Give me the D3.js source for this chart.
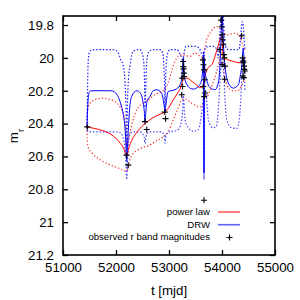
<!DOCTYPE html>
<html><head><meta charset="utf-8">
<script src="https://cdn.jsdelivr.net/npm/d3@7"></script>
<style>body{margin:0;background:#fff}svg{display:block}text{font-family:"Liberation Sans",Arial,sans-serif}</style>
</head><body><svg id="c" width="300" height="300"></svg>
<script>
// ---- data (t [mjd], m_r) ----
const xTicks=[51000,52000,53000,54000,55000];
const yTicks=[19.8,20,20.2,20.4,20.6,20.8,21,21.2];
const legendLabels=["power law","DRW","observed r band magnitudes"];

const obsT=[51458,52200,52230,52547,52580,52920,52935,53240,53255,53265,53270,53275,53280,53285,53250,53640,53650,53660,53675,53645,53680,53665,53660,53960,53985,53995,54005,54015,54025,54035,54045,54000,54055,54371,54390,54400,54405,54415,54420,54430,54395,54410,54050];
const obsM=[20.42,20.592,20.653,20.388,20.436,20.33,20.37,20.224,20.174,20.022,20.053,20.067,20.093,20.113,20.123,20.012,20.042,20.073,20.133,20.174,20.214,20.236,20.867,19.95,19.77,19.81,19.86,19.89,19.92,19.98,20.0,20.04,20.05,19.865,20.0,20.02,20.03,20.05,20.07,20.08,20.11,20.12,20.13];

const plMean=[[51453,20.42],[51600,20.43],[51750,20.443],[51900,20.465],[52000,20.49],[52080,20.52],[52150,20.555],[52202,20.6],[52240,20.55],[52300,20.5],[52400,20.45],[52480,20.42],[52547,20.4],[52642,20.376],[52750,20.355],[52850,20.34],[52925,20.33],[53000,20.3],[53081,20.255],[53150,20.22],[53208,20.19],[53270,20.133],[53340,20.123],[53420,20.14],[53500,20.16],[53585,20.18],[53642,20.175],[53679,20.11],[53740,20.06],[53811,20.04],[53925,19.93],[53990,19.87],[54020,19.97],[54045,20.0],[54100,20.01],[54200,20.02],[54340,20.03],[54400,20.01],[54434,20.0]];
const plUpper=[[51453,20.42],[51465,20.32],[51500,20.28],[51600,20.255],[51750,20.245],[51900,20.255],[52000,20.27],[52080,20.3],[52140,20.34],[52180,20.42],[52202,20.56],[52234,20.5],[52296,20.41],[52391,20.315],[52515,20.275],[52610,20.255],[52750,20.22],[52892,20.2],[52987,20.15],[53050,20.08],[53113,20.02],[53236,19.98],[53300,19.985],[53396,19.99],[53491,19.97],[53585,19.99],[53640,20.0],[53708,19.89],[53774,19.85],[53896,19.81],[54000,19.83],[54088,19.86],[54245,19.85],[54340,19.87],[54400,19.93],[54434,19.95]];
const plLower=[[51453,20.42],[51458,20.5],[51475,20.545],[51550,20.58],[51700,20.62],[51850,20.645],[52000,20.665],[52100,20.678],[52202,20.69],[52264,20.618],[52330,20.58],[52420,20.56],[52547,20.54],[52610,20.535],[52736,20.51],[52892,20.48],[52987,20.45],[53081,20.376],[53175,20.305],[53240,20.255],[53300,20.25],[53400,20.27],[53500,20.29],[53585,20.3],[53642,20.28],[53700,20.25],[53811,20.17],[53900,20.08],[53960,20.0],[54000,19.95],[54040,20.1],[54100,20.17],[54200,20.2],[54300,20.2],[54370,20.17],[54434,20.12]];

const drwMean=[[51453,20.42],[51462,20.33],[51475,20.25],[51495,20.21],[51530,20.2],[51900,20.2],[51960,20.205],[52030,20.23],[52090,20.28],[52140,20.35],[52175,20.45],[52195,20.58],[52202,20.63],[52210,20.58],[52230,20.45],[52260,20.3],[52296,20.235],[52391,20.2],[52460,20.215],[52510,20.27],[52535,20.33],[52547,20.39],[52560,20.34],[52590,20.26],[52642,20.235],[52700,20.2],[52768,20.194],[52850,20.21],[52895,20.26],[52915,20.31],[52925,20.335],[52940,20.29],[52987,20.204],[53113,20.194],[53208,20.164],[53240,20.12],[53260,20.04],[53272,20.0],[53285,20.08],[53302,20.133],[53340,20.164],[53396,20.184],[53458,20.19],[53553,20.174],[53617,20.133],[53645,20.03],[53656,19.98],[53660,20.7],[53664,20.0],[53680,20.08],[53711,20.133],[53774,20.18],[53868,20.194],[53930,20.153],[53960,20.05],[53985,19.85],[53998,19.72],[54012,19.8],[54035,19.97],[54057,20.05],[54119,20.153],[54213,20.184],[54308,20.164],[54350,20.1],[54372,20.05],[54390,19.97],[54400,19.94],[54415,20.0],[54434,20.08]];
const drwUpper=[[51453,20.42],[51460,20.25],[51468,20.1],[51480,20.0],[51500,19.965],[51540,19.952],[51600,19.95],[51950,19.95],[52000,19.955],[52043,19.97],[52090,20.01],[52137,20.05],[52170,20.15],[52189,20.315],[52202,20.55],[52215,20.3],[52235,20.13],[52264,20.05],[52300,19.98],[52326,19.96],[52400,19.95],[52453,19.95],[52500,19.98],[52515,20.0],[52535,20.1],[52547,20.3],[52560,20.2],[52575,20.05],[52600,19.98],[52640,19.955],[52700,19.95],[52840,19.95],[52880,19.97],[52900,20.03],[52915,20.15],[52925,20.3],[52935,20.15],[52950,20.03],[52975,19.97],[53020,19.95],[53150,19.95],[53200,19.97],[53230,19.99],[53250,20.01],[53270,20.0],[53290,19.96],[53320,19.93],[53400,19.93],[53500,19.93],[53570,19.94],[53610,19.97],[53640,19.99],[53656,19.96],[53660,20.6],[53664,19.96],[53690,19.94],[53740,19.93],[53850,19.93],[53900,19.95],[53930,20.0],[53950,19.9],[53975,19.78],[53990,19.7],[54012,19.7],[54030,19.8],[54050,19.9],[54080,19.94],[54120,19.95],[54250,19.95],[54320,19.95],[54345,19.9],[54365,19.82],[54380,19.78],[54400,19.8],[54420,19.9],[54434,19.95]];
const drwLower=[[51453,20.42],[51460,20.44],[51480,20.45],[51550,20.45],[52000,20.45],[52080,20.455],[52130,20.48],[52170,20.55],[52190,20.65],[52202,20.74],[52214,20.65],[52235,20.52],[52270,20.46],[52320,20.45],[52453,20.45],[52500,20.46],[52530,20.48],[52547,20.52],[52565,20.48],[52600,20.455],[52650,20.45],[52850,20.45],[52890,20.46],[52915,20.49],[52925,20.52],[52935,20.49],[52960,20.46],[53000,20.45],[53120,20.445],[53175,20.436],[53240,20.376],[53262,20.3],[53272,20.22],[53285,20.3],[53302,20.376],[53364,20.426],[53458,20.447],[53553,20.436],[53617,20.335],[53645,20.25],[53656,20.22],[53660,20.74],[53664,20.22],[53690,20.2],[53711,20.255],[53740,20.37],[53774,20.406],[53830,20.426],[53896,20.416],[53925,20.335],[53943,20.255],[53970,20.1],[53990,20.02],[54010,20.0],[54035,20.1],[54057,20.255],[54088,20.376],[54183,20.426],[54277,20.43],[54326,20.376],[54353,20.255],[54375,20.12],[54395,20.05],[54415,20.1],[54434,20.2]];

// ---- layout ----
const L=63,R=275,T=16,B=255;
const svg=d3.select("#c");
const x=d3.scaleLinear().domain([51000,55000]).range([L,R]);
const y=d3.scaleLinear().domain([19.745,21.2]).range([T,B]);

svg.append("defs").append("clipPath").attr("id","clip").append("rect")
  .attr("x",L).attr("y",T).attr("width",R-L).attr("height",B-T);

const fs=13.3;
const gl=svg.append("g").attr("transform",`translate(${L},0)`)
  .call(d3.axisLeft(y).tickValues(yTicks).tickSize(-5).tickPadding(9).tickFormat(d=>String(d)));
const gb=svg.append("g").attr("transform",`translate(0,${B})`)
  .call(d3.axisBottom(x).tickValues(xTicks).tickSize(-5).tickPadding(8).tickFormat(d=>String(d)));
const gt=svg.append("g").attr("transform",`translate(0,${T})`)
  .call(d3.axisTop(x).tickValues(xTicks).tickSize(-5).tickFormat(""));
const gr=svg.append("g").attr("transform",`translate(${R},0)`)
  .call(d3.axisRight(y).tickValues(yTicks).tickSize(-5).tickFormat(""));
[gl,gb,gt,gr].forEach(g=>{
  g.select(".domain").remove();
  g.selectAll("line").attr("stroke","#000").attr("stroke-width",1.3);
  g.selectAll("text").attr("font-size",fs).attr("fill","#000").attr("font-family","Liberation Sans, Arial, sans-serif");
});

const plot=svg.append("g").attr("clip-path","url(#clip)");
const line=d3.line().x(d=>x(d[0])).y(d=>y(d[1])).curve(d3.curveMonotoneX);

plot.append("path").datum(plUpper).attr("d",line).attr("fill","none").attr("stroke","#ff2020").attr("stroke-width",1.2).attr("stroke-dasharray","1.2,2.2");
plot.append("path").datum(plLower).attr("d",line).attr("fill","none").attr("stroke","#ff2020").attr("stroke-width",1.2).attr("stroke-dasharray","1.2,2.2");
plot.append("path").datum(drwUpper).attr("d",line).attr("fill","none").attr("stroke","#2020ff").attr("stroke-width",1.2).attr("stroke-dasharray","1.5,1.8");
plot.append("path").datum(drwLower).attr("d",line).attr("fill","none").attr("stroke","#4848ff").attr("stroke-width",1.2).attr("stroke-dasharray","1.5,1.8");
plot.append("path").datum(plMean).attr("d",line).attr("fill","none").attr("stroke","#ff0000").attr("stroke-width",1);
plot.append("path").datum(drwMean).attr("d",line).attr("fill","none").attr("stroke","#0000ff").attr("stroke-width",1);

const plus=(g,cx,cy,s)=>{
  g.append("path").attr("d",`M${cx-s},${cy}H${cx+s}M${cx},${cy-s}V${cy+s}`).attr("stroke","#000").attr("stroke-width",1.1).attr("fill","none");
};
const pg=plot.append("g");
obsT.forEach((t,i)=>plus(pg,x(t),y(obsM[i]),3));

// frame
svg.append("rect").attr("x",L).attr("y",T).attr("width",R-L).attr("height",B-T)
  .attr("fill","none").attr("stroke","#000").attr("stroke-width",1.6);

// axis labels
svg.append("text").attr("x",(L+R)/2).attr("y",295).attr("text-anchor","middle").attr("font-size",fs).text("t [mjd]");
const yl=svg.append("text").attr("transform","translate(18,136) rotate(-90)").attr("text-anchor","middle").attr("font-size",fs);
yl.append("tspan").text("m");
yl.append("tspan").attr("baseline-shift","sub").attr("font-size",9.5).text("r");

// legend
const lx=210, ly=[215,227.7,240];
const lg=svg.append("g").attr("font-size",9.6);
legendLabels.forEach((s,i)=>lg.append("text").attr("x",lx).attr("y",ly[i]).attr("text-anchor","end").text(s));
lg.append("line").attr("x1",218).attr("x2",240).attr("y1",212).attr("y2",212).attr("stroke","#ff0000").attr("stroke-width",1);
lg.append("line").attr("x1",218).attr("x2",240).attr("y1",224.7).attr("y2",224.7).attr("stroke","#6060ff").attr("stroke-width",1.6);
plus(lg,229.5,237.5,3);
</script></body></html>
